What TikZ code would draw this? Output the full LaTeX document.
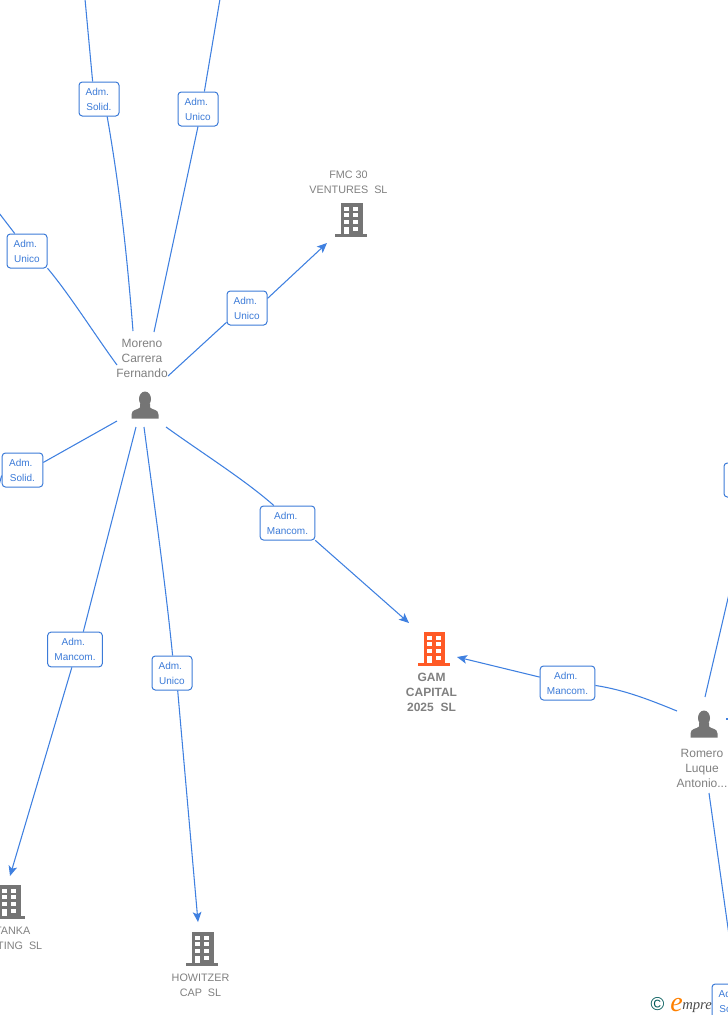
\documentclass[tikz,border=0pt]{standalone}
\usepackage{fontspec}
\setmainfont{Liberation Sans}
\newfontfamily\logofont{Liberation Serif}
\usetikzlibrary{arrows.meta}
\definecolor{edgeblue}{HTML}{3F80E0}
\definecolor{boxblue}{HTML}{3C7BD8}
\definecolor{icongrey}{HTML}{757575}
\definecolor{textgrey}{HTML}{808080}
\definecolor{iconorange}{HTML}{FF5A26}
\newcommand{\admtxt}{Adm.\hspace*{2.5pt}}
\tikzset{
  x=0.75pt,y=-0.75pt,
  role/.style={draw=boxblue,line width=0.75pt,fill=white,rounded corners=2.5pt,inner sep=0pt,
    text=boxblue,align=center,font=\fontsize{7.5}{11.25}\selectfont},
  edge/.style={draw=edgeblue,line width=0.8pt},
  arrowed/.style={edge,-{Stealth[length=7.5pt,width=6.5pt,inset=1.8pt]}},
  person/.style={text=textgrey,align=center,inner sep=0pt,font=\fontsize{9}{11.25}\selectfont},
  company/.style={text=textgrey,align=center,inner sep=0pt,font=\fontsize{8.1}{11.25}\selectfont},
  mainco/.style={text=textgrey,align=center,inner sep=0pt,font=\bfseries\fontsize{9}{11.25}\selectfont},
  pics/bldg/.style={code={
    \fill[#1] (0,0) rectangle (21.5,31);
    \fill[#1] (-6,31) -- (26,31) -- (26,33.5) -- (-6,33.5) -- cycle;
    \foreach \wy in {3.5,10,17}{
      \fill[white] (3,\wy) rectangle (8,\wy+4);
      \fill[white] (12,\wy) rectangle (17,\wy+4);
    }
    \fill[white] (3,24) rectangle (8,31);
    \fill[white] (12,23.5) rectangle (17,28);
  }},
  pics/personicon/.style={code={
    \fill[icongrey] (0,-6.5) circle[x radius=6,y radius=7.5];
    \fill[icongrey] (-5,-2) -- (-5,2) .. controls (-7,4.5) and (-13.5,3.5) .. (-13.5,9) -- (-13.5,13)
      -- (13.5,13) -- (13.5,9) .. controls (13.5,3.5) and (7,4.5) .. (5,2) -- (5,-2) -- cycle;
  }},
}
\begin{document}
\begin{tikzpicture}
\useasboundingbox (0,0) rectangle (728,1015);
\clip (0,0) rectangle (728,1015);

% icons
\pic at (341,203) {bldg=icongrey};
\pic at (423.5,632) {bldg=iconorange};
\pic at (-1,885) {bldg=icongrey};
\pic at (192,932) {bldg=icongrey};
\pic at (145,405.5) {personicon};
\pic at (704,724.5) {personicon};

% entity labels
\node[person] (moreno) at (142,358) {Moreno\\Carrera\\Fernando};
\node[person] (romero) at (702,768) {Romero\\Luque\\Antonio...};
\node[company] (fmc) at (348.5,182) {FMC 30\\VENTURES~~SL};
\node[mainco] (gam) at (431.5,692) {GAM\\CAPITAL\\2025~~SL};
\node[company,anchor=east] (tanka1) at (30.5,931) {TANKA};
\node[company,anchor=east] (tanka2) at (42.5,946) {TING~~SL};
\node[company] (howitzer) at (200.5,985) {HOWITZER\\CAP~~SL};

% role boxes
\node[role,minimum width=30pt,minimum height=25.5pt] (b1) at (99,99) {\admtxt\\Solid.};
\node[role,minimum width=30pt,minimum height=25.5pt] (b2) at (198,109) {\admtxt\\Unico};
\node[role,minimum width=30pt,minimum height=25.5pt] (b3) at (27,251) {\admtxt\\Unico};
\node[role,minimum width=30pt,minimum height=25.5pt] (b4) at (247,308) {\admtxt\\Unico};
\node[role,minimum width=30.5pt,minimum height=25.5pt] (b5) at (22.5,470) {\admtxt\\Solid.};
\node[role,minimum width=41pt,minimum height=25.5pt] (b6) at (287.5,523) {\admtxt\\Mancom.};
\node[role,minimum width=41pt,minimum height=26pt] (b7) at (75,649.5) {\admtxt\\Mancom.};
\node[role,minimum width=30pt,minimum height=25.5pt] (b8) at (172,673) {\admtxt\\Unico};
\node[role,minimum width=41pt,minimum height=25.5pt] (b9) at (567.5,683) {\admtxt\\Mancom.};
\node[role,minimum width=30pt,minimum height=25.5pt] (b10) at (744,480) {};

% free ends
\coordinate (t1) at (85,-1);
\coordinate (t2) at (220,-1);
\coordinate (t3) at (-1,213);
\coordinate (t5) at (-1,485);
\coordinate (m1) at (133,331);
\coordinate (m2) at (154,332);
\coordinate (m3) at (117,365);
\coordinate (m4) at (168,376);
\coordinate (m5) at (117,421);
\coordinate (m6) at (166,427);
\coordinate (m7) at (136,427);
\coordinate (m8) at (144,427);
\coordinate (a4) at (327,243);
\coordinate (a6) at (409,623);
\coordinate (a7) at (10,876);
\coordinate (a8) at (198,922);
\coordinate (a9) at (457,657);
\coordinate (r1) at (677,711);
\coordinate (r2) at (705,697);
\coordinate (r2b) at (729,594);
\coordinate (r3) at (709,793);
\coordinate (r3b) at (729,935);
\coordinate (r4) at (726,719);
\coordinate (r4b) at (729,719);

% connectors
\draw[edge] (t1) -- (b1.110);
\draw[edge] (b1.-65) .. controls (120,190) and (127,255) .. (m1);
\draw[edge] (t2) -- (b2.70);
\draw[edge] (b2.-90) -- (m2);
\draw[edge] (t3) -- (b3.125);
\draw[edge] (b3.-40) .. controls (70,295) and (95,335) .. (m3);
\draw[edge] (m4) -- (b4.-145);
\draw[arrowed] (b4.25) -- (a4);
\draw[edge] (b5.20) -- (m5);
\draw[edge] (t5) -- (b5.-165);
\draw[edge] (m6) .. controls (205,455) and (245,480) .. (b6.128);
\draw[arrowed] (b6.-32) -- (a6);
\draw[edge] (m7) -- (b7.65);
\draw[arrowed] (b7.-100) -- (a7);
\draw[edge] (m8) .. controls (155,510) and (165,580) .. (b8.88);
\draw[arrowed] (b8.-72) -- (a8);
\draw[arrowed] (b9.168) -- (a9);
\draw[edge] (b9.-5) .. controls (625,690) and (650,700) .. (r1);
\draw[edge] (r2) -- (r2b);
\draw[edge] (r3) -- (r3b);
\draw[edge] (r4) -- (r4b);

% logo
\node[anchor=base,inner sep=0pt,text=teal!70!black,font=\fontsize{14}{14}\selectfont] (copyr) at (657.5,1010) {©};
\node[anchor=base west,inner sep=0pt,text=orange,font=\logofont\itshape\fontsize{21}{21}\selectfont] (logoe) at (670,1011) {e};
\node[anchor=base west,inner sep=0pt,text=black!70,font=\logofont\itshape\fontsize{11}{11}\selectfont] (logorest) at (682,1009) {mpre};
\node[role,minimum width=30pt,minimum height=25.5pt] (b11) at (732,1001) {\admtxt\\Solid.};
\end{tikzpicture}
\end{document}
